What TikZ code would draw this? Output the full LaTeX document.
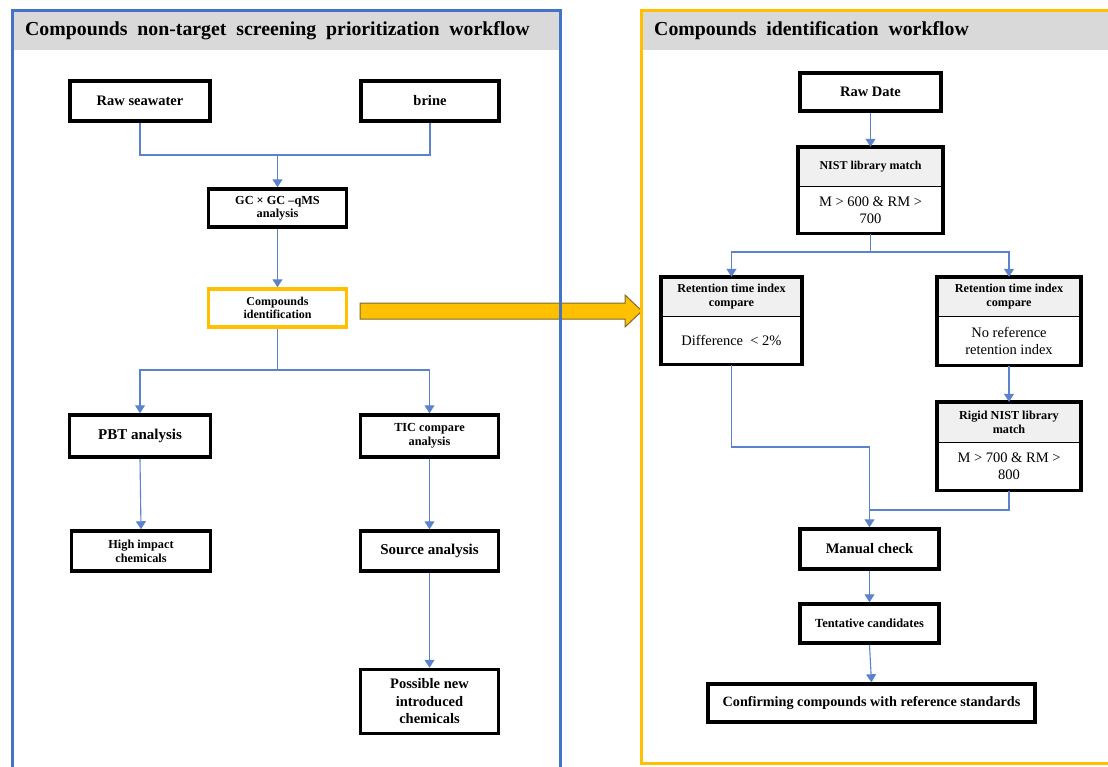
\documentclass[tikz,border=0pt]{standalone}
\usepackage{fontspec}
\setmainfont{Liberation Serif}
\usetikzlibrary{arrows.meta}
\definecolor{flowblue}{HTML}{4472C4}
\definecolor{linkblue}{HTML}{5B82CC}
\definecolor{flowgold}{HTML}{FFC000}
\definecolor{hdrgray}{HTML}{D9D9D9}
\definecolor{cellgray}{HTML}{F0F0F0}
\definecolor{arrowedge}{HTML}{7A6A30}

\begin{document}
\begin{tikzpicture}[x=1pt,y=-1pt,
  flowbox/.style={draw=black, line width=3.5pt, fill=white, align=center, inner sep=1pt,
    font=\bfseries\fontsize{14.5}{17}\selectfont},
  smallbox/.style={flowbox, font=\bfseries\fontsize{12.3}{14}\selectfont},
  cellhead/.style={fill=cellgray, align=center, inner sep=1pt, font=\bfseries\fontsize{12.2}{14}\selectfont},
  cellbody/.style={fill=white, align=center, inner sep=1pt, font=\fontsize{14.5}{17}\selectfont},
  cellframe/.style={draw=black, line width=3.5pt},
  link/.style={linkblue, line width=1.1pt},
  linkarrow/.style={link, -{Triangle[width=10pt,length=8pt]}},
  paneltitle/.style={anchor=west, inner sep=0pt, font=\bfseries\fontsize{19.8}{22}\selectfont}]
\useasboundingbox (0,0) rectangle (1108,766);

% panel headers
\fill[hdrgray] (13,11) rectangle (559,50);
\fill[hdrgray] (642,11) rectangle (1110,50);
\node[paneltitle] (lefttitle) at (25,31) {Compounds\ \ non-target\ \ screening\ \ prioritization\ \ workflow};
\node[paneltitle] (righttitle) at (654,31) {Compounds\ \ identification\ \ workflow};

% hand-over arrow between the panels
\draw[draw=arrowedge, fill=flowgold, line width=1pt]
  (360,303) -- (625,303) -- (625,295) -- (642,311) -- (625,327) -- (625,319) -- (360,319) -- cycle;

% panel frames
\draw[flowblue, line width=3pt] (12,10) rectangle (560,790);
\draw[flowgold, line width=3pt] (641,10) rectangle (1130,763);

% screening workflow
\node[flowbox, minimum width=140pt, minimum height=40pt] (raw) at (140,101) {Raw seawater};
\node[flowbox, minimum width=138pt, minimum height=40pt] (brine) at (430,101) {brine};
\node[smallbox, minimum width=138pt, minimum height=38pt, font=\bfseries\fontsize{12.3}{13}\selectfont] (gcx) at (277.5,208) {GC × GC –qMS\\analysis};
\node[smallbox, draw=flowgold, minimum width=138pt, minimum height=38pt, font=\bfseries\fontsize{12}{13.5}\selectfont] (cid) at (277.5,308) {Compounds\\identification};
\node[flowbox, minimum width=141pt, minimum height=42pt, font=\bfseries\fontsize{15}{17}\selectfont] (pbt) at (140,436) {PBT analysis};
\node[smallbox, minimum width=138pt, minimum height=42pt] (tic) at (429.5,436) {TIC compare\\analysis};
\node[smallbox, minimum width=139pt, minimum height=40pt] (high) at (141,551) {High impact\\chemicals};
\node[flowbox, minimum width=138pt, minimum height=40pt, font=\bfseries\fontsize{15}{17}\selectfont] (src) at (429.5,551) {Source analysis};
\node[flowbox, minimum width=138pt, minimum height=64pt, font=\bfseries\fontsize{14.5}{17.5}\selectfont] (poss) at (429.5,701.5) {Possible new\\introduced\\chemicals};

\coordinate (j1) at (277.5,155);
\coordinate (j2) at (277.5,370);
\draw[link] (raw.south) |- (j1) -| (brine.south);
\draw[linkarrow] (j1) -- (gcx.north);
\draw[linkarrow] (gcx.south) -- (cid.north);
\draw[link] (cid.south) -- (j2);
\draw[linkarrow] (j2) -| (pbt.north);
\draw[linkarrow] (j2) -| (tic.north);
\draw[linkarrow] (pbt.south) -- (high.north);
\draw[linkarrow] (tic.south) -- (src.north);
\draw[linkarrow] (src.south) -- (poss.north);

% identification workflow
\node[flowbox, minimum width=141pt, minimum height=38pt] (rawd) at (870.5,92) {Raw Date};

\node[cellhead, minimum width=145pt, minimum height=39pt, font=\bfseries\fontsize{12}{14}\selectfont] (nist) at (870.5,166.5) {NIST library match};
\node[cellbody, minimum width=145pt, minimum height=47pt, anchor=north] (nistb) at (nist.south) {M > 600 \& RM >\\700};
\draw[cellframe] (nist.north west) rectangle (nistb.south east);
\draw[black, line width=0.8pt] (nist.south west) -- (nist.south east);

\node[cellhead, minimum width=141pt, minimum height=39pt] (retl) at (731.5,296.5) {Retention time index\\compare};
\node[cellbody, minimum width=141pt, minimum height=48pt, anchor=north] (retlb) at (retl.south) {Difference\ \ < 2\%};
\draw[cellframe] (retl.north west) rectangle (retlb.south east);
\draw[black, line width=0.8pt] (retl.south west) -- (retl.south east);

\node[cellhead, minimum width=144pt, minimum height=39pt] (retr) at (1009,296.5) {Retention time index\\compare};
\node[cellbody, minimum width=144pt, minimum height=49pt, anchor=north] (retrb) at (retr.south) {No reference\\retention index};
\draw[cellframe] (retr.north west) rectangle (retrb.south east);
\draw[black, line width=0.8pt] (retr.south west) -- (retr.south east);

\node[cellhead, minimum width=144pt, minimum height=40pt] (rigid) at (1009,422) {Rigid NIST library\\match};
\node[cellbody, minimum width=144pt, minimum height=48pt, anchor=north] (rigidb) at (rigid.south) {M > 700 \& RM >\\800};
\draw[cellframe] (rigid.north west) rectangle (rigidb.south east);
\draw[black, line width=0.8pt] (rigid.south west) -- (rigid.south east);

\node[flowbox, minimum width=139pt, minimum height=40pt] (manual) at (869.5,549) {Manual check};
\node[smallbox, minimum width=139pt, minimum height=39pt, font=\bfseries\fontsize{12.4}{14}\selectfont] (tent) at (869.5,623.5) {Tentative candidates};
\node[flowbox, minimum width=327pt, minimum height=38pt, font=\bfseries\fontsize{14.2}{16}\selectfont] (conf) at (871.5,703) {Confirming compounds with reference standards};

\coordinate (j3) at (870.5,252);
\coordinate (j4) at (869.5,447);
\coordinate (j5) at (869.5,510);
\draw[linkarrow] (rawd.south) -- (nist.north);
\draw[link] (nistb.south) -- (j3);
\draw[linkarrow] (j3) -| (retl.north);
\draw[linkarrow] (j3) -| (retr.north);
\draw[linkarrow] (retrb.south) -- (rigid.north);
\draw[link] (retlb.south) |- (j4);
\draw[link] (rigidb.south) |- (j5);
\draw[linkarrow] (j4) -- (manual.north);
\draw[linkarrow] (manual.south) -- (tent.north);
\draw[linkarrow] (tent.south) -- (conf.north);
\end{tikzpicture}
\end{document}
